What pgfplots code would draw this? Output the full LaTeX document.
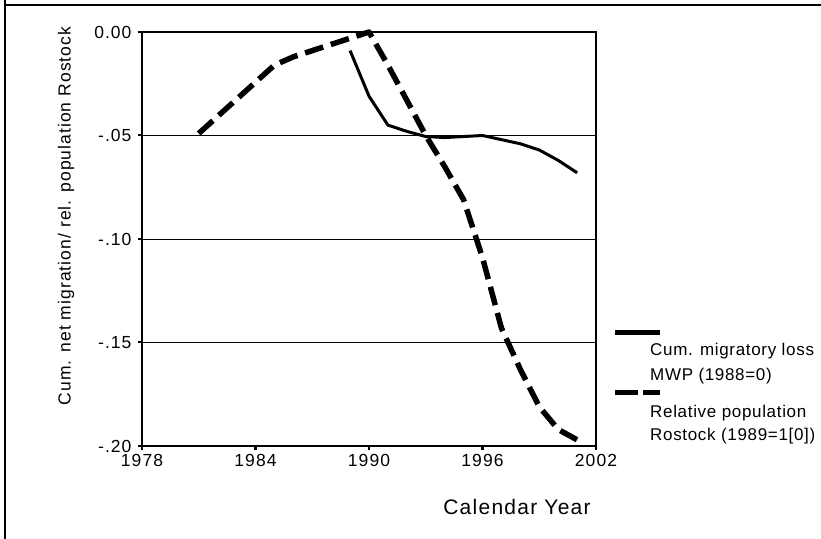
\documentclass[border=0pt]{standalone}
\usepackage{pgfplots}
\pgfplotsset{compat=1.18}
\usepackage{fontspec}
\setmainfont[LetterSpace=6]{Liberation Sans}
\begin{document}
\begin{tikzpicture}[x=1pt,y=1pt]
\useasboundingbox (0,0) rectangle (821,538);
% outer frame (top and left edges visible)
\draw[line width=2.2pt] (5,540) -- (5,533) -- (823,533);
\draw[line width=2.2pt] (5,533) -- (5,-2);
\begin{axis}[
  at={(142pt,92pt)}, anchor=south west,
  scale only axis, width=454pt, height=414pt,
  xmin=1978, xmax=2002, ymin=-0.2, ymax=0,
  xtick={1978,1984,1990,1996,2002},
  ytick={-0.2,-0.15,-0.1,-0.05,0},
  yticklabels={-.20,-.15,-.10,-.05,0.00},
  xtick pos=bottom, ytick pos=left,
  /pgf/number format/1000 sep={},
  /pgf/number format/assume math mode=true,
  tick align=outside, major tick length=4pt,
  tick style={line width=2pt, black},
  xtick style={line width=2.5pt},
  axis line style={line width=1.8pt},
  ymajorgrids, grid style={line width=0.8pt, black},
  ticklabel style={font=\fontsize{17.5}{20}\selectfont},
  yticklabel style={xshift=-3pt},
  xticklabel style={yshift=-1pt},
  clip=false,
]
\addplot[black, line width=5.5pt, dash pattern=on 19pt off 8pt, line join=round] coordinates {
 (1981,-0.049) (1985,-0.016) (1986,-0.012) (1987,-0.009) (1988,-0.006) (1989,-0.003) (1990,0.000)
 (1991,-0.016) (1992,-0.033) (1993,-0.050) (1994,-0.065) (1995,-0.081) (1996,-0.109)
 (1997,-0.143) (1998,-0.163) (1999,-0.181) (2000,-0.192) (2001,-0.197)
};
\addplot[black, line width=3pt, line join=round] coordinates {
 (1989,-0.009) (1990,-0.031) (1991,-0.045) (1992,-0.048) (1993,-0.0505) (1994,-0.051)
 (1995,-0.0505) (1996,-0.050) (1997,-0.052) (1998,-0.054) (1999,-0.057) (2000,-0.062) (2001,-0.068)
};
\end{axis}
% axis titles
\node[rotate=90, font=\fontsize{17.5}{21}\selectfont] at (66,322) {Cum. net migration/ rel. population Rostock};
\node[font=\fontsize{21}{24}\selectfont] at (517,31) {Calendar Year};
% legend
\draw[black, line width=5pt] (615,205) -- (660,205);
\node[anchor=west, inner sep=0pt, font=\fontsize{17}{20}\selectfont\addfontfeatures{LetterSpace=4}] at (650,187) {Cum. migratory loss};
\node[anchor=west, inner sep=0pt, font=\fontsize{17}{20}\selectfont\addfontfeatures{LetterSpace=4}] at (650,162) {MWP (1988=0)};
\draw[black, line width=5pt, dash pattern=on 23pt off 5pt] (615,145) -- (660,145);
\node[anchor=west, inner sep=0pt, font=\fontsize{17}{20}\selectfont\addfontfeatures{LetterSpace=4}] at (650,125) {Relative population};
\node[anchor=west, inner sep=0pt, font=\fontsize{17}{20}\selectfont\addfontfeatures{LetterSpace=4}] at (650,102) {Rostock (1989=1[0])};
\end{tikzpicture}
\end{document}
